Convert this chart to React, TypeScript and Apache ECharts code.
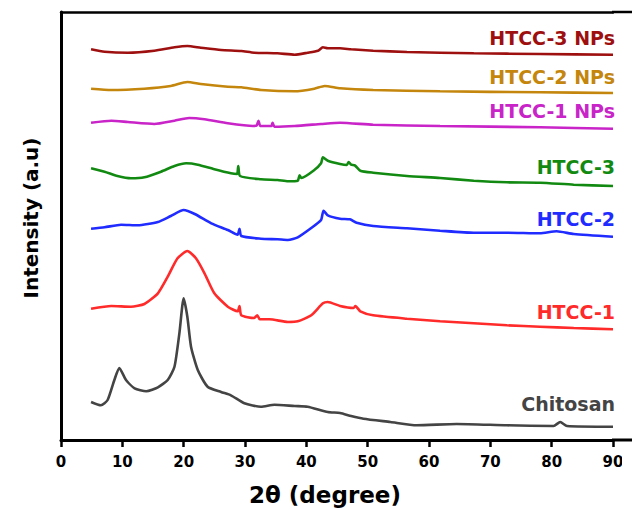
import React, { useEffect, useRef } from "react";
import * as echarts from "echarts";

// 2θ (degree), intensity (a.u., stacked offsets)
const chitosan: [number, number][] = [
  [4.9, 38], [6.5, 34.7], [7.6, 40], [8.7, 60], [9.5, 72], [10.6, 60], [12.0, 51.7], [13.9, 48.7],
  [15.8, 52.7], [17.4, 60], [18.5, 73.3], [19.3, 106.7], [20.0, 141.7], [20.6, 123.3], [21.2, 93.3],
  [22.3, 70], [23.9, 53.3], [26.1, 48], [27.7, 44.7], [29.9, 36.7], [32.6, 33.3], [34.8, 35.3],
  [38.1, 34], [40.2, 33.3], [43.5, 28], [45.5, 27], [47.3, 24], [49.3, 21.3], [53.7, 18], [58.0, 14.7],
  [64.5, 16], [72.7, 14.7], [80.3, 14], [81.4, 18], [82.5, 14], [90.0, 13.3],
];
const htcc1: [number, number][] = [
  [4.9, 131.3], [8.2, 134], [11.4, 133.3], [13.6, 136], [15.8, 146.7], [17.4, 163.3], [19.0, 181.7],
  [20.6, 189], [22.0, 181.7], [23.4, 166.7], [25.0, 146.7], [27.2, 133.3], [28.8, 128.7], [29.1, 134],
  [29.4, 124.7], [31.5, 122], [32.0, 124.7], [32.4, 120.7], [34.0, 120.7], [37.0, 118], [38.6, 118.7],
  [40.8, 124.7], [42.7, 136.7], [43.5, 138], [45.5, 134], [47.7, 132], [48.0, 134], [48.8, 128.7],
  [50.9, 124.7], [56.4, 121.3], [61.8, 118.7], [67.3, 116.7], [72.7, 114.7], [78.1, 113.3], [83.6, 112],
  [90.0, 110.7],
];
const htcc2: [number, number][] = [
  [4.9, 211.3], [7.1, 212.7], [9.8, 215.3], [12.5, 214.7], [15.8, 218], [17.9, 224], [20.0, 230],
  [21.8, 226], [24.5, 216.7], [27.2, 210], [28.8, 205.3], [29.1, 211.3], [29.4, 204], [32.6, 201.3],
  [35.3, 200.7], [37.0, 200], [38.6, 202.7], [40.8, 212], [42.4, 220], [42.8, 229.3], [43.5, 224.7],
  [45.5, 221.3], [47.1, 220.7], [48.2, 217.3], [50.9, 214], [56.4, 211.7], [61.8, 209.3], [67.3, 207.3],
  [72.7, 207.3], [78.1, 206.7], [80.8, 208.7], [83.6, 206], [90.0, 203.3],
];
const htcc3: [number, number][] = [
  [4.9, 271.7], [7.1, 268.3], [9.2, 264], [11.4, 261.7], [13.6, 262.7], [16.3, 268.3], [18.5, 274],
  [20.4, 276.7], [22.3, 275.3], [25.0, 270.7], [27.7, 266.7], [28.7, 266], [28.9, 274], [29.2, 264],
  [32.6, 260.7], [35.3, 260], [37.0, 258.7], [38.6, 259.3], [38.9, 264.7], [39.2, 262], [41.3, 270],
  [42.4, 276.7], [42.7, 282.7], [43.5, 279.3], [45.5, 276], [46.6, 275], [46.9, 278], [47.3, 275.3],
  [47.9, 274.7], [48.8, 269.3], [50.9, 267.3], [56.4, 264], [61.8, 262], [67.3, 259.3], [72.7, 257.7],
  [78.1, 257.3], [83.6, 255.3], [90.0, 254],
];
const htcc1NPs: [number, number][] = [
  [4.9, 317.3], [8.2, 319.3], [10.9, 318], [15.2, 316], [18.5, 319.3], [20.9, 322], [23.4, 320.7],
  [27.2, 316.7], [31.3, 314], [31.9, 314.5], [32.2, 319.3], [32.5, 314], [34.3, 314], [34.5, 317.3],
  [34.8, 313.3], [38.1, 314], [42.4, 316], [45.5, 317.3], [50.9, 315.3], [61.8, 314], [78.1, 312.7],
  [90.0, 311.3],
];
const htcc2NPs: [number, number][] = [
  [4.9, 351.3], [8.2, 350], [13.6, 351.3], [17.9, 354], [20.6, 358], [22.8, 356], [27.2, 353.3],
  [29.4, 352.7], [32.6, 350], [38.1, 348.7], [41.3, 351.3], [43.0, 354], [45.5, 351.7], [50.9, 350],
  [61.8, 348.7], [78.1, 347.7], [90.0, 347],
];
const htcc3NPs: [number, number][] = [
  [4.9, 390.7], [7.1, 388.3], [10.9, 387.3], [15.2, 389.3], [18.5, 392.7], [20.6, 394], [22.8, 392.3],
  [26.1, 390], [29.4, 389], [31.5, 387.3], [35.3, 386.7], [38.1, 385.3], [40.2, 387.3], [41.9, 389.3],
  [42.7, 392.7], [43.5, 391.7], [45.5, 391.7], [47.3, 390.7], [50.9, 389.3], [56.4, 388], [67.3, 386.7],
  [78.1, 386], [90.0, 385.3],
];

const seriesNames = ["Chitosan", "HTCC-1", "HTCC-2", "HTCC-3", "HTCC-1 NPs", "HTCC-2 NPs", "HTCC-3 NPs"];
const seriesData = [chitosan, htcc1, htcc2, htcc3, htcc1NPs, htcc2NPs, htcc3NPs];
const seriesColors = ["#444444", "#ff2a2a", "#1f2bff", "#128a12", "#c824c8", "#c4860c", "#9e1010"];
// label centres (px) for the curve names
const labelY = [404, 312, 219, 167, 111, 77, 38];

export default function App() {
  const ref = useRef<HTMLDivElement>(null);
  useEffect(() => {
    if (!ref.current) return;
    const chart = echarts.init(ref.current, undefined, { renderer: "svg" });
    const font = "'DejaVu Sans', sans-serif";
    chart.setOption({
      animation: false,
      grid: { left: 61, right: 19, top: 12, bottom: 70, outerBoundsMode: "none" },
      xAxis: [
        {
          type: "value",
          min: 0,
          max: 90,
          interval: 10,
          position: "bottom",
          axisLine: { show: true, lineStyle: { color: "#000", width: 3 } },
          axisTick: { show: true, length: 7, lineStyle: { color: "#000", width: 2.5 } },
          axisLabel: {
            margin: 14,
            fontFamily: font,
            fontWeight: "bold",
            fontSize: 15,
            color: "#000",
          },
          splitLine: { show: false },
        },
        {
          type: "value",
          min: 0,
          max: 90,
          position: "top",
          axisLine: { show: true, lineStyle: { color: "#000", width: 2.5 } },
          axisTick: { show: false },
          axisLabel: { show: false },
          splitLine: { show: false },
        },
      ],
      yAxis: {
        type: "value",
        min: 0,
        max: 428,
        axisLine: { show: true, lineStyle: { color: "#000", width: 3 } },
        axisTick: { show: false },
        axisLabel: { show: false },
        splitLine: { show: false },
      },
      series: seriesData.map((d, i) => ({
        name: seriesNames[i],
        type: "line",
        data: d,
        showSymbol: false,
        smooth: 0.2,
        lineStyle: { color: seriesColors[i], width: 2.6 },
      })),
      graphic: [
        // blank margin right of the last tick label
        { type: "rect", z: 100, shape: { x: 622, y: 442, width: 10, height: 30 }, style: { fill: "#fff" } },
        // frame continues past 90° to the image's right edge
        { type: "line", z: 101, shape: { x1: 612, y1: 440, x2: 632, y2: 440 }, style: { stroke: "#000", lineWidth: 3 } },
        { type: "line", z: 101, shape: { x1: 612, y1: 12, x2: 632, y2: 12 }, style: { stroke: "#000", lineWidth: 2.5 } },
        ...seriesNames.map((n, i) => ({
          type: "text",
          x: 615,
          y: labelY[i],
          style: {
            text: n,
            fill: seriesColors[i],
            font: `bold 19px ${font}`,
            align: "right",
            verticalAlign: "middle",
          },
        })),
        {
          type: "text",
          x: 31,
          y: 218,
          rotation: Math.PI / 2,
          style: {
            text: "Intensity (a.u)",
            fill: "#000",
            font: `bold 20px ${font}`,
            align: "center",
            verticalAlign: "middle",
          },
        },
        {
          type: "text",
          x: 325,
          y: 495,
          style: {
            text: "2θ (degree)",
            fill: "#000",
            font: `bold 23px ${font}`,
            align: "center",
            verticalAlign: "middle",
          },
        },
      ],
    });
    return () => chart.dispose();
  }, []);
  return (
    <div
      ref={ref}
      style={{ position: "fixed", left: 0, top: 0, width: 632, height: 510, background: "#fff" }}
    />
  );
}
